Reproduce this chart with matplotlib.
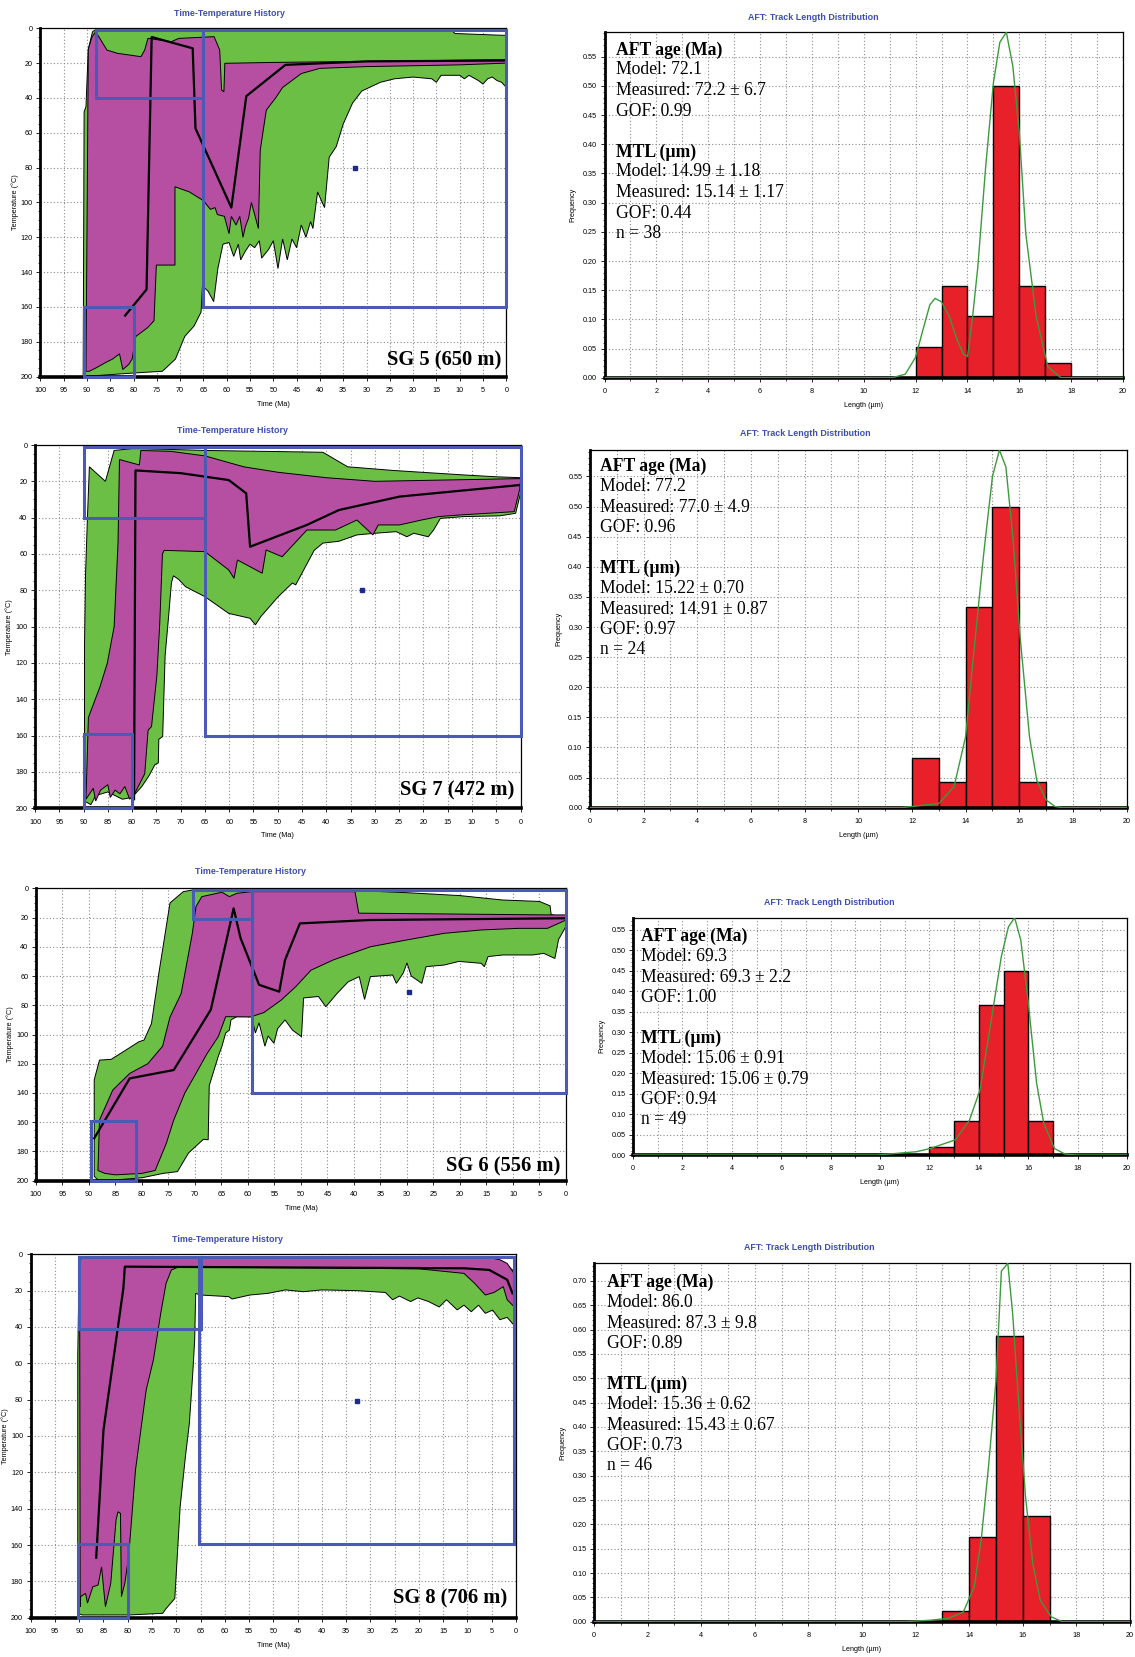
import matplotlib.pyplot as plt
from matplotlib.patches import Rectangle
from matplotlib.ticker import MultipleLocator, FormatStrFormatter

W, H = 1135, 1657

GREEN = '#6cbf45'
PINK = '#b64fa2'
BOX_BLUE = '#4b5bb5'
TITLE_BLUE = '#3d4eae'
RED = '#e8202a'
CURVE_GREEN = '#3c9a3c'

# ---- SG 5 time-temperature history (time Ma, temperature C)
SG5_GREEN_TOP = [(90.8, 200), (90.6, 48), (90.2, 45), (89.7, 12), (88.8, 2), (88, 0.5), (12, 0.5), (11, 3), (1, 4), (0, 4)]
SG5_GREEN_BOT = [(90.8, 200), (80, 198), (73.8, 197), (71, 190), (69, 177), (67, 171), (65.5, 163), (65.2, 148), (64, 151),
                 (62.8, 157), (61.9, 138), (60.8, 124), (59.5, 123), (58.5, 131), (57.5, 124), (57, 133), (56, 128), (55, 124),
                 (54, 126), (53, 122), (52.5, 132), (51, 127), (50, 122), (49, 138), (48, 121), (47, 133), (46, 121), (45, 126),
                 (44, 113), (43, 120), (42, 111), (41.5, 115), (40.5, 94), (39, 103), (38, 74), (36.5, 68), (35, 55), (33, 43),
                 (31, 36), (27, 31), (24, 29), (20, 28), (16, 29), (15, 31), (14, 27), (10, 27), (9, 29), (8, 27), (6, 30),
                 (5, 32), (4, 29), (3, 28), (2, 30), (1, 31), (0, 34)]
SG5_PINK_TOP = [(90.2, 197), (89.7, 12), (88.9, 5), (88.1, 1.9), (85.7, 12.5), (83.4, 14.4), (78.4, 16.3), (77.6, 12.5),
                (76.9, 5.8), (71.9, 7.7), (70.3, 5.8), (62.7, 4.8), (61.5, 12.5), (61.1, 35.5), (60.6, 36.4), (60.4, 20.1),
                (50, 19.6), (30, 19), (0, 18)]
SG5_PINK_BOT = [(90.2, 197), (89.5, 197), (88, 195), (86, 192), (84.5, 190), (83, 187), (82.3, 196), (81, 193), (80.3, 190),
                (79.5, 177), (77, 172), (75.6, 168), (75.1, 136), (71.1, 136), (71.1, 91), (68, 94), (65, 99), (63.5, 104),
                (62.5, 103), (62, 107), (60.5, 108), (59.5, 118), (59, 108), (58, 113), (57.2, 108), (56.5, 120), (56, 114),
                (55.3, 109), (54.7, 100), (54, 107), (53.2, 115), (52.8, 70), (51.5, 47), (49.5, 40), (48, 34), (46, 30),
                (44, 26), (40, 23), (30, 22), (20, 21.5), (10, 21), (0, 20)]
SG5_LINE = [(81.8, 165), (77.2, 150), (76.1, 5), (67.3, 11.5), (66.7, 57.5), (59, 103), (55.8, 39), (47.4, 21), (30, 19), (0, 18.5)]
SG5_BOXES = [(88, 65, 1, 40), (90.6, 80, 160, 200), (65, 0, 1, 160)]
SG5_MARK = (32.5, 80)

# ---- SG 7
SG7_GREEN_TOP = [(89.8, 196), (89.8, 110), (89.6, 72), (89.2, 40), (88.8, 12), (85.5, 20), (83.7, 3), (80, 2), (77.8, 2),
                 (65, 3), (40.7, 4), (35.6, 12), (26.3, 14), (11.6, 16.5), (5, 17.5), (0, 18)]
SG7_GREEN_BOT = [(89.8, 196), (88.5, 198), (87.5, 193), (85, 191), (82, 195), (80, 194), (78, 188), (76.5, 182), (75.3, 176),
                 (74.6, 175), (74.5, 162), (73.7, 160.5), (73.2, 116), (72.6, 98), (71.9, 76), (71.5, 72), (70.4, 74), (69, 78),
                 (65, 83.5), (60.1, 92.7), (55.7, 95.4), (54.6, 99), (53.5, 94.5), (49.9, 83.5), (47, 76), (46.3, 77),
                 (44.7, 69), (42.5, 58), (40.7, 54), (37.4, 53), (33.7, 49.5), (30, 48.6), (25.6, 47.7), (23.4, 50.5),
                 (22, 48.6), (19, 50.5), (17.9, 46.8), (16.5, 40.4), (11.6, 39.4), (4.3, 39), (1, 37.6), (0, 26.6)]
SG7_PINK_TOP = [(89.5, 195), (89, 150), (86.6, 133), (85.1, 120), (83.7, 100), (82.9, 54), (82.6, 8), (78.5, 11), (78.2, 3),
                (72, 3.5), (65, 6), (57, 12), (50, 15), (40, 18), (30, 20), (20, 19.5), (10, 19), (0, 18.5)]
SG7_PINK_BOT = [(89.5, 195), (89, 193), (88, 189), (87.5, 196), (86.5, 190), (85, 187), (84.5, 194), (83.5, 190), (82.5, 192),
                (81.5, 188), (80.5, 195), (79.5, 192), (77.4, 181), (76.7, 157), (76, 155), (74.9, 127), (74.3, 98),
                (73.75, 60), (73.4, 58), (65, 58.7), (60.1, 68.8), (59, 73.4), (58.3, 63.3), (53.2, 70.6), (52.4, 57.8),
                (49.1, 61.5), (44, 46.8), (38.1, 46.8), (33.7, 41.3), (30.4, 49.5), (29.3, 44), (24.9, 44), (20.4, 41.3),
                (16.8, 39.4), (12.4, 38.5), (1.3, 36.7), (0.2, 24.8), (0, 20)]
SG7_LINE = [(79.6, 195), (79.3, 14), (70, 15.5), (60.1, 19.3), (56.5, 26.6), (55.7, 56), (44, 44), (37.4, 35.8), (24.9, 28.4), (0, 22)]
SG7_BOXES = [(90, 65, 1, 40), (90, 80, 159, 200), (65, 0, 1, 160)]
SG7_MARK = (32.6, 80)

# ---- SG 6
SG6_GREEN_TOP = [(89, 197), (89, 131), (88, 117.5), (85.8, 117), (83, 110.6), (80.6, 105), (79.6, 103.8), (78.2, 92.5),
                 (76.8, 58), (75.4, 26), (74.7, 10), (72.2, 2.3), (70.5, 1.2), (40, 1.5), (30, 3), (20, 5), (12, 8), (5, 9),
                 (3, 12), (2.8, 18), (0, 20)]
SG6_GREEN_BOT = [(89, 197), (88.3, 199.5), (85, 199.5), (80, 198), (76, 195), (73.3, 193.8), (71.2, 181), (68.4, 171.7),
                 (67.5, 172), (67.3, 135), (65.6, 115), (64.9, 108), (64.2, 99), (63.5, 97), (63.2, 90), (62.1, 87.8),
                 (59.3, 87.8), (58.6, 99), (57.9, 92), (56.8, 108), (56.2, 101), (55.1, 106), (54.4, 96), (53, 90), (51.6, 97),
                 (49.9, 101.5), (49.5, 75), (46.7, 74), (45.3, 81), (43.2, 72), (41.1, 64), (39, 60.4), (38, 76), (36.9, 60.4),
                 (32.7, 59.3), (32, 65), (30.7, 58), (30, 51), (29.2, 60), (27.2, 65), (26.4, 53.6), (23, 52.5), (20.2, 50),
                 (16, 51.3), (15.4, 53.6), (14.7, 46.7), (11.9, 45.6), (9, 45.6), (6.3, 45.6), (4.2, 44.5), (2.1, 48),
                 (1.4, 35), (0, 26)]
SG6_PINK_TOP = [(88.3, 193), (88, 158.5), (85.5, 138), (82.3, 126.6), (78.9, 120), (76.1, 108), (74.7, 88), (72.6, 72),
                (70.5, 31), (69.8, 12.5), (68.7, 5.7), (64.9, 2.7), (63.5, 5.7), (62.1, 3.4), (59.3, 2.3), (39.8, 2.3),
                (39.1, 17), (3.5, 18.2), (0, 18.2)]
SG6_PINK_BOT = [(88.3, 193), (87, 195), (85, 196), (80, 195), (77.5, 193), (75.4, 174.5), (74, 158.5), (71.9, 140), (69.8, 126.6),
                (67.7, 113), (65.6, 101.5), (64.2, 87.8), (59.5, 88), (57, 85), (53.7, 76.4), (50.9, 67), (48.1, 56),
                (43.9, 49), (40.4, 44.5), (36.9, 40), (30, 35.3), (23, 30.8), (16, 28.5), (9, 27.4), (3.5, 27.4), (0, 21.7)]
SG6_LINE = [(89, 171), (82.3, 130), (74, 124.3), (67, 83), (62.7, 13.7), (61.4, 34), (57.9, 66), (54.1, 70.7), (53, 49),
            (50.2, 24), (37, 21.7), (0, 20.5)]
SG6_BOXES = [(70.3, 59.3, 1, 21), (89.7, 81.1, 159, 200), (59.3, 0, 1, 140)]
SG6_MARK = (29.7, 70.7)

# ---- SG 8
SG8_GREEN_TOP = [(90.3, 197.6), (90.3, 56), (90, 3), (89.4, 2), (5, 1.5), (2.6, 4), (1, 8), (0, 10)]
SG8_GREEN_BOT = [(90.3, 197.6), (89.4, 198.5), (79.8, 198.5), (72.8, 197.6), (72.1, 195), (70.3, 189.4), (69.2, 139),
                 (68.1, 111), (67.3, 93), (66.6, 65.5), (66.2, 47), (66, 21.5), (65.1, 22.4), (59.2, 23.3), (58.5, 24.6),
                 (54.8, 22.4), (51.1, 21.5), (47.5, 19.6), (43.8, 20.6), (40.1, 19.6), (32.8, 20), (26.9, 21), (25.4, 25),
                 (24, 23), (21.7, 26), (20.2, 24), (18, 26), (15.8, 29), (14.3, 25), (12.1, 30.6), (10.7, 28), (9.2, 31.6),
                 (7.7, 28), (6.3, 32.5), (4.8, 30.7), (3.3, 36), (1.8, 34.7), (0.4, 39), (0, 32.5)]
SG8_PINK_TOP = [(89.8, 194), (89.9, 40), (90, 3), (88.7, 1.3), (6.3, 1.3), (3.3, 3), (1.8, 5), (0.4, 10.5), (0, 14)]
SG8_PINK_BOT = [(89.8, 194), (89.7, 188.4), (88.7, 186.6), (88.3, 192), (87.2, 183), (86.1, 182), (85.4, 172), (84.6, 194),
                (83.5, 181), (82.4, 146), (82, 141.7), (81.5, 142.6), (81.3, 188.4), (80.6, 181), (79.8, 166), (78.4, 118.7),
                (76.2, 74.7), (74.7, 58), (73.2, 32.5), (72.1, 16), (71, 8.6), (69.5, 7), (40, 7.5), (20, 8), (10.7, 10.5),
                (8.5, 16), (6.3, 22.4), (4.5, 21), (2.6, 17.8), (1.8, 25), (0.4, 28.8), (0, 25)]
SG8_LINE = [(86.5, 167), (85, 96.7), (80.9, 18.7), (80.6, 6.8), (10.7, 7.7), (5.5, 8.6), (1.8, 14), (0.7, 21.5)]
SG8_BOXES = [(90, 65, 1.3, 41), (90.3, 80, 159.4, 200), (65.3, 0.4, 1.3, 159.4)]
SG8_MARK = (32.7, 81)

# ---- track length histograms (bin start um, frequency)
BIN_STARTS_SG5 = [12, 13, 14, 15, 16, 17]
FREQ_SG5 = [0.053, 0.158, 0.105, 0.5, 0.158, 0.026]
BIN_STARTS_SG7 = [12, 13, 14, 15, 16]
FREQ_SG7 = [0.083, 0.042, 0.333, 0.5, 0.042]
BIN_STARTS_SG6 = [12, 13, 14, 15, 16]
FREQ_SG6 = [0.02, 0.082, 0.367, 0.449, 0.082]
BIN_STARTS_SG8 = [13, 14, 15, 16]
FREQ_SG8 = [0.022, 0.174, 0.587, 0.217]

CURVE_SG5 = [(0, 0), (11.1, 0), (11.6, 0.006), (12.0, 0.035), (12.3, 0.085), (12.55, 0.125), (12.75, 0.136), (13.0, 0.13),
             (13.3, 0.105), (13.6, 0.065), (13.85, 0.04), (14.0, 0.036), (14.2, 0.105), (14.4, 0.19), (14.7, 0.36),
             (15.0, 0.505), (15.25, 0.575), (15.5, 0.592), (15.75, 0.534), (16.0, 0.42), (16.25, 0.247), (16.65, 0.105),
             (17.1, 0.019), (17.6, 0), (20, 0)]
CURVE_SG7 = [(0, 0), (11.6, 0), (13.0, 0.007), (13.57, 0.035), (14.0, 0.118), (14.3, 0.256), (14.67, 0.42), (15.0, 0.55),
             (15.26, 0.594), (15.5, 0.566), (15.76, 0.45), (16.03, 0.284), (16.38, 0.118), (16.65, 0.046), (17.0, 0.013),
             (17.33, 0.002), (17.6, 0), (20, 0)]
CURVE_SG6 = [(0, 0), (9.9, 0), (11.47, 0.008), (12.04, 0.016), (13.05, 0.037), (13.62, 0.085), (14.05, 0.159), (14.48, 0.32),
             (14.91, 0.484), (15.2, 0.557), (15.45, 0.579), (15.7, 0.524), (15.99, 0.378), (16.34, 0.175), (16.63, 0.077),
             (17.06, 0.016), (17.5, 0.002), (18, 0), (20, 0)]
CURVE_SG8 = [(0, 0), (11.6, 0), (12.54, 0.003), (13.23, 0.007), (13.78, 0.02), (14.19, 0.072), (14.46, 0.175), (14.73, 0.325),
             (15.0, 0.496), (15.2, 0.72), (15.44, 0.736), (15.62, 0.633), (15.83, 0.462), (16.1, 0.257), (16.37, 0.12),
             (16.65, 0.044), (17.06, 0.01), (17.47, 0), (20, 0)]

STATS_SG5 = ['AFT age (Ma)', 'Model: 72.1', 'Measured: 72.2 \u00b1 6.7', 'GOF: 0.99',
             'MTL (\u00b5m)', 'Model: 14.99 \u00b1 1.18', 'Measured: 15.14 \u00b1 1.17', 'GOF: 0.44', 'n = 38']
STATS_SG7 = ['AFT age (Ma)', 'Model: 77.2', 'Measured: 77.0 \u00b1 4.9', 'GOF: 0.96',
             'MTL (\u00b5m)', 'Model: 15.22 \u00b1 0.70', 'Measured: 14.91 \u00b1 0.87', 'GOF: 0.97', 'n = 24']
STATS_SG6 = ['AFT age (Ma)', 'Model: 69.3', 'Measured: 69.3 \u00b1 2.2', 'GOF: 1.00',
             'MTL (\u00b5m)', 'Model: 15.06 \u00b1 0.91', 'Measured: 15.06 \u00b1 0.79', 'GOF: 0.94', 'n = 49']
STATS_SG8 = ['AFT age (Ma)', 'Model: 86.0', 'Measured: 87.3 \u00b1 9.8', 'GOF: 0.89',
             'MTL (\u00b5m)', 'Model: 15.36 \u00b1 0.62', 'Measured: 15.43 \u00b1 0.67', 'GOF: 0.73', 'n = 46']
ROW_OFFSETS = [0, 20, 40.5, 61, 102, 122, 142.5, 163, 183]

plt.rcParams['font.family'] = 'Liberation Sans'
fig = plt.figure(figsize=(W / 100, H / 100), dpi=100)


def rect(l, t, r, b):
    return [l / W, 1 - b / H, (r - l) / W, (b - t) / H]


def fig_text(x, y, s, **kw):
    fig.text(x / W, 1 - y / H, s, **kw)


def style_axes(ax, box, xlabel, ylabel, ylab_off):
    l, t, r, b = box
    for side in ['top', 'right']:
        ax.spines[side].set_linewidth(0.9)
    ax.spines['left'].set_linewidth(2.0)
    ax.spines['bottom'].set_linewidth(2.6)
    ax.tick_params(labelsize=5.2, length=3, width=0.6, direction='out', pad=2.5)
    ax.tick_params(axis='x', pad=4.5)
    ax.tick_params(which='minor', length=1.8, width=0.5)
    ax.grid(True, which='major', color='#8a8a8a', lw=0.8, linestyle=(0, (1, 2)))
    ax.set_axisbelow(True)
    ax.set_xlabel(xlabel, fontsize=5.2)
    ax.set_ylabel(ylabel, fontsize=5.2)
    ax.xaxis.set_label_coords(0.5, -24 / (b - t))
    ax.yaxis.set_label_coords(-ylab_off / (r - l), 0.5)


def envelope(ax, top, bot, colour):
    pts = top + bot[::-1]
    ax.fill([p[0] for p in pts], [p[1] for p in pts], facecolor=colour, edgecolor='black', lw=0.7, zorder=2)


def tt_panel(box, g_top, g_bot, p_top, p_bot, line, boxes, mark, label, label_xy, title_xy):
    ax = fig.add_axes(rect(*box))
    ax.set_xlim(100, 0)
    ax.set_ylim(200, 0)
    ax.xaxis.set_major_locator(MultipleLocator(5))
    ax.yaxis.set_major_locator(MultipleLocator(20))
    ax.yaxis.set_minor_locator(MultipleLocator(5))
    style_axes(ax, box, 'Time (Ma)', 'Temperature (\u00b0C)', 21.5)

    envelope(ax, g_top, g_bot, GREEN)
    envelope(ax, p_top, p_bot, PINK)
    ax.plot([p[0] for p in line], [p[1] for p in line], color='black', lw=1.6, zorder=3)
    for old, young, cold, hot in boxes:
        ax.add_patch(Rectangle((young, cold), old - young, hot - cold, fill=False,
                               edgecolor=BOX_BLUE, lw=2.2, zorder=4, clip_on=False))
    ax.plot([mark[0]], [mark[1]], marker='s', ms=3.5, color='#1c2a8c', zorder=5)

    fig_text(label_xy[0], label_xy[1], label, ha='right', va='center', fontsize=14.8,
             fontweight='bold', family='Liberation Serif')
    fig_text(title_xy[0], title_xy[1], 'Time-Temperature History', ha='center', va='center',
             fontsize=6.4, fontweight='bold', color=TITLE_BLUE)


def hist_panel(box, ymax, starts, freqs, curve, stats, text_xy, title_xy):
    ax = fig.add_axes(rect(*box))
    ax.set_xlim(0, 20)
    ax.set_ylim(0, ymax)
    ax.xaxis.set_major_locator(MultipleLocator(2))
    ax.xaxis.set_minor_locator(MultipleLocator(1))
    ax.yaxis.set_major_locator(MultipleLocator(0.05))
    ax.yaxis.set_minor_locator(MultipleLocator(0.01))
    ax.yaxis.set_major_formatter(FormatStrFormatter('%.2f'))
    style_axes(ax, box, 'Length (\u00b5m)', 'Frequency', 28)
    ax.grid(True, which='minor', axis='x', color='#8a8a8a', lw=0.8, linestyle=(0, (1, 2)))

    ax.bar(starts, freqs, width=1, align='edge', color=RED, edgecolor='black', lw=1, zorder=2)
    ax.plot([p[0] for p in curve], [p[1] for p in curve], color=CURVE_GREEN, lw=1, zorder=3)

    x0, y0 = text_xy
    for i, s in enumerate(stats):
        bold = i in (0, 4)
        fig_text(x0, y0 + ROW_OFFSETS[i], s, ha='left', va='center', fontsize=12.7,
                 fontweight='bold' if bold else 'normal', family='Liberation Serif')
    fig_text(title_xy[0], title_xy[1], 'AFT: Track Length Distribution', ha='center', va='center',
             fontsize=6.4, fontweight='bold', color=TITLE_BLUE)


def main():
    tt_panel((40.3, 28.3, 506.3, 376.5), SG5_GREEN_TOP, SG5_GREEN_BOT, SG5_PINK_TOP, SG5_PINK_BOT, SG5_LINE,
             SG5_BOXES, SG5_MARK, 'SG 5 (650 m)', (501.6, 360), (229.6, 14))
    hist_panel((604.5, 32.3, 1123, 377.7), 0.592, BIN_STARTS_SG5, FREQ_SG5, CURVE_SG5, STATS_SG5,
               (615.7, 50), (813, 17))

    tt_panel((35, 445, 520.5, 808.3), SG7_GREEN_TOP, SG7_GREEN_BOT, SG7_PINK_TOP, SG7_PINK_BOT, SG7_LINE,
             SG7_BOXES, SG7_MARK, 'SG 7 (472 m)', (514, 790), (232, 430.7))
    hist_panel((590, 450, 1126.6, 807.7), 0.594, BIN_STARTS_SG7, FREQ_SG7, CURVE_SG7, STATS_SG7,
               (600.3, 466.7), (805.7, 434))

    tt_panel((35.9, 888.3, 566, 1180.7), SG6_GREEN_TOP, SG6_GREEN_BOT, SG6_PINK_TOP, SG6_PINK_BOT, SG6_LINE,
             SG6_BOXES, SG6_MARK, 'SG 6 (556 m)', (560.4, 1166.7), (250, 871))
    hist_panel((633.1, 917.7, 1127, 1155), 0.579, BIN_STARTS_SG6, FREQ_SG6, CURVE_SG6, STATS_SG6,
               (640.9, 936.7), (829.6, 902.7))

    tt_panel((30.7, 1254.3, 515.9, 1617.7), SG8_GREEN_TOP, SG8_GREEN_BOT, SG8_PINK_TOP, SG8_PINK_BOT, SG8_LINE,
             SG8_BOXES, SG8_MARK, 'SG 8 (706 m)', (507.7, 1598.3), (227, 1240))
    hist_panel((594.1, 1263.3, 1130, 1621.7), 0.736, BIN_STARTS_SG8, FREQ_SG8, CURVE_SG8, STATS_SG8,
               (607, 1282.7), (809.4, 1248))

    fig.savefig('out.png', dpi=100)


if __name__ == '__main__':
    main()
